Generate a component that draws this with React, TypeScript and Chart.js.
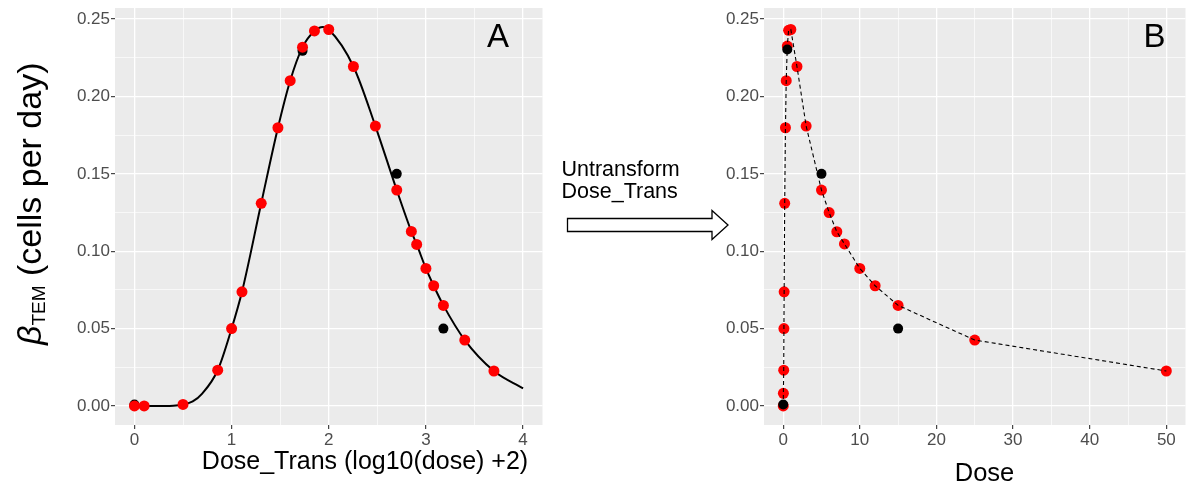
import React, { useEffect, useRef } from 'react';
import { Chart, registerables } from 'chart.js';

Chart.register(...registerables);

const W = 1187;
const H = 486;
const FONT = '"Liberation Sans", Arial, Helvetica, sans-serif';

// ---------- Panel A (Dose_Trans) ----------
const doseTransA = [0, 0.1, 0.5, 0.857, 1.0, 1.107, 1.305, 1.477, 1.603, 1.73, 1.853, 2.0, 2.254, 2.48, 2.7, 2.85, 2.905, 3.0, 3.08, 3.18, 3.4, 3.7];
const betaFitA = [0, 0, 0.001, 0.0231, 0.05, 0.0738, 0.131, 0.1798, 0.2102, 0.2319, 0.2424, 0.2433, 0.2194, 0.1809, 0.1395, 0.1128, 0.1044, 0.0889, 0.0777, 0.065, 0.0426, 0.0226];
const obsTransA = [0, 1.73, 2.7, 3.18];
const obsBetaA = [0.001, 0.2295, 0.15, 0.05];
const curveX = [0, 0.2, 0.4, 0.5, 0.6, 0.7, 0.857, 1.0, 1.107, 1.305, 1.477, 1.603, 1.73, 1.853, 1.94, 2.0, 2.254, 2.48, 2.7, 2.85, 2.905, 3.0, 3.08, 3.18, 3.4, 3.7, 4.0];
const curveY = [0, 0, 0.0002, 0.001, 0.003, 0.0082, 0.0231, 0.05, 0.0738, 0.131, 0.1798, 0.2102, 0.2319, 0.2424, 0.245, 0.2433, 0.2194, 0.1809, 0.1395, 0.1128, 0.1044, 0.0889, 0.0777, 0.065, 0.0426, 0.0226, 0.0114];

// ---------- Panel B (Dose) ----------
const doseB = [0.01, 0.03, 0.072, 0.1, 0.128, 0.2, 0.3, 0.4, 0.54, 0.71, 1.0, 1.8, 3, 5, 6, 7, 8, 10, 12, 15, 25, 50];
const betaFitB = [0, 0.0082, 0.0231, 0.05, 0.0738, 0.131, 0.1798, 0.2102, 0.2326, 0.2428, 0.2433, 0.2194, 0.1809, 0.1395, 0.125, 0.1126, 0.1047, 0.0889, 0.0777, 0.065, 0.0426, 0.0226];
const obsDoseB = [0.01, 0.54, 5, 15];
const obsBetaB = [0.001, 0.2304, 0.15, 0.05];

// ---------- Axes ----------
const yMajor = [0, 0.05, 0.1, 0.15, 0.2, 0.25];
const yMinor = [0.025, 0.075, 0.125, 0.175, 0.225];
const xMajorA = [0, 1, 2, 3, 4];
const xMinorA = [0.5, 1.5, 2.5, 3.5];
const xMajorB = [0, 10, 20, 30, 40, 50];
const xMinorB = [5, 15, 25, 35, 45];

const Y_MIN = -0.0123;
const Y_MAX = 0.2572;

const pts = (xs: number[], ys: number[]) => xs.map((x, i) => ({ x, y: ys[i] }));

function makeScale(
  axis: 'x' | 'y',
  min: number,
  max: number,
  major: number[],
  minor: number[],
  fmt: (v: number) => string,
  fitSize: number
) {
  const majorSet = new Set(major);
  return {
    type: 'linear',
    position: axis === 'x' ? 'bottom' : 'left',
    min,
    max,
    afterBuildTicks: (s: any) => {
      s.ticks = [...major, ...minor].sort((a, b) => a - b).map((v) => ({ value: v }));
    },
    afterFit: (s: any) => {
      if (axis === 'x') {
        s.height = fitSize;
        s.paddingLeft = 0;
        s.paddingRight = 0;
      } else {
        s.width = fitSize;
        s.paddingTop = 0;
        s.paddingBottom = 0;
      }
    },
    border: { display: false },
    grid: {
      color: '#FFFFFF',
      lineWidth: (ctx: any) => (majorSet.has(ctx.tick?.value) ? 1.3 : 0.65),
      tickColor: (ctx: any) => (majorSet.has(ctx.tick?.value) ? '#333333' : 'rgba(0,0,0,0)'),
      tickWidth: 1.1,
      tickLength: 4,
      drawTicks: true,
    },
    ticks: {
      autoSkip: false,
      maxRotation: 0,
      minRotation: 0,
      padding: 1,
      color: '#4D4D4D',
      font: { family: FONT, size: 17 },
      callback: (v: any) => (majorSet.has(v) ? fmt(v) : ''),
    },
  };
}

const panelBg = {
  id: 'panelBg',
  beforeDraw(chart: any) {
    const { ctx, chartArea: a } = chart;
    ctx.save();
    ctx.fillStyle = '#EBEBEB';
    ctx.fillRect(a.left, a.top, a.right - a.left, a.bottom - a.top);
    ctx.restore();
  },
};

export default function App() {
  const refA = useRef<HTMLCanvasElement>(null);
  const refB = useRef<HTMLCanvasElement>(null);

  useEffect(() => {
    const common = {
      responsive: false,
      animation: false,
      devicePixelRatio: 1,
      events: [],
      plugins: { legend: { display: false }, tooltip: { enabled: false } },
    };

    const chartA = new Chart(refA.current as HTMLCanvasElement, {
      type: 'scatter',
      data: {
        datasets: [
          {
            label: 'fitted',
            data: pts(doseTransA, betaFitA),
            backgroundColor: '#FF0000',
            borderWidth: 0,
            pointRadius: 5.5,
            order: 0,
          },
          {
            label: 'observed',
            data: pts(obsTransA, obsBetaA),
            backgroundColor: '#000000',
            borderWidth: 0,
            pointRadius: 5,
            order: 1,
          },
          {
            label: 'curve',
            data: pts(curveX, curveY),
            showLine: true,
            borderColor: '#000000',
            borderWidth: 2,
            pointRadius: 0,
            cubicInterpolationMode: 'monotone',
            order: 2,
          },
        ],
      },
      options: {
        ...common,
        layout: { padding: { left: 0, right: 5, top: 8, bottom: 0 } },
        scales: {
          x: makeScale('x', -0.2, 4.2, xMajorA, xMinorA, (v) => String(v), 61),
          y: makeScale('y', Y_MIN, Y_MAX, yMajor, yMinor, (v) => v.toFixed(2), 115),
        },
      },
      plugins: [panelBg],
    } as any);

    const chartB = new Chart(refB.current as HTMLCanvasElement, {
      type: 'scatter',
      data: {
        datasets: [
          {
            label: 'line',
            data: pts(doseB, betaFitB),
            showLine: true,
            borderColor: '#000000',
            borderWidth: 1.1,
            borderDash: [4, 3],
            pointRadius: 0,
            tension: 0,
            order: 0,
          },
          {
            label: 'observed',
            data: pts(obsDoseB, obsBetaB),
            backgroundColor: '#000000',
            borderWidth: 0,
            pointRadius: 5,
            order: 1,
          },
          {
            label: 'fitted',
            data: pts(doseB, betaFitB),
            backgroundColor: '#FF0000',
            borderWidth: 0,
            pointRadius: 5.5,
            order: 2,
          },
        ],
      },
      options: {
        ...common,
        layout: { padding: { left: 0, right: 0, top: 8, bottom: 0 } },
        scales: {
          x: makeScale('x', -2.5, 52.5, xMajorB, xMinorB, (v) => String(v), 61),
          y: makeScale('y', Y_MIN, Y_MAX, yMajor, yMinor, (v) => v.toFixed(2), 64),
        },
      },
      plugins: [panelBg],
    } as any);

    return () => {
      chartA.destroy();
      chartB.destroy();
    };
  }, []);

  return (
    <div
      style={{
        position: 'fixed',
        left: 0,
        top: 0,
        width: W,
        height: H,
        overflow: 'hidden',
        background: '#FFFFFF',
      }}
    >
      <canvas
        ref={refA}
        width={548}
        height={486}
        style={{ position: 'absolute', left: 0, top: 0, width: 548, height: 486 }}
      />
      <canvas
        ref={refB}
        width={491}
        height={486}
        style={{ position: 'absolute', left: 700, top: 0, width: 491, height: 486 }}
      />
      <svg
        width={W}
        height={H}
        style={{ position: 'absolute', left: 0, top: 0, pointerEvents: 'none' }}
        fontFamily={FONT}
      >
        <text transform="translate(41,345) rotate(-90)" fontSize={34} fill="#000000">
          <tspan fontStyle="italic">β</tspan>
          <tspan fontSize={19} dy={4}>TEM</tspan>
          <tspan dy={-4}> (cells per day)</tspan>
        </text>
        <text x={365} y={468.5} fontSize={25} textAnchor="middle" fill="#000000">
          Dose_Trans (log10(dose) +2)
        </text>
        <text x={984.5} y={481} fontSize={25.5} textAnchor="middle" fill="#000000">
          Dose
        </text>
        <text x={498} y={47} fontSize={33} textAnchor="middle" fill="#000000">A</text>
        <text x={1154.5} y={47} fontSize={33} textAnchor="middle" fill="#000000">B</text>
        <text x={561.5} y={176} fontSize={21.5} fill="#000000">Untransform</text>
        <text x={561.5} y={198} fontSize={21.5} fill="#000000">Dose_Trans</text>
        <polygon
          points="567.5,218.5 712,218.5 712,210.5 728,225 712,239.5 712,231.5 567.5,231.5"
          fill="#FFFFFF"
          stroke="#000000"
          strokeWidth={1.3}
        />
      </svg>
    </div>
  );
}
